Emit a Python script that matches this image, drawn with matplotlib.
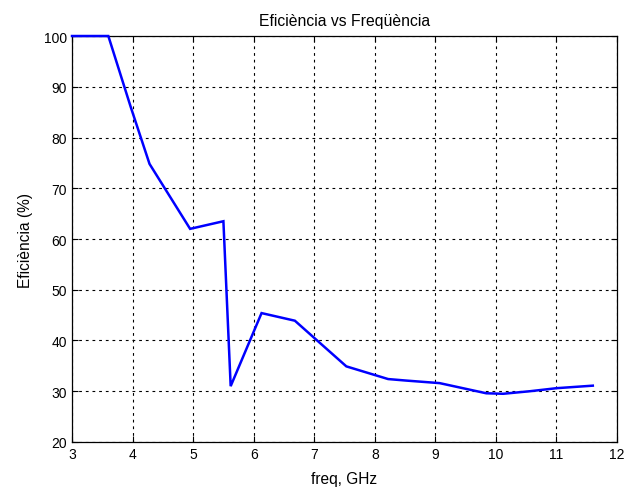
import matplotlib
matplotlib.use("Agg")
import matplotlib.pyplot as plt

# Efficiency measured across frequency
freq_ghz = [3.0, 3.3, 3.6, 3.97, 4.28, 4.95, 5.5, 5.62, 6.13, 6.68, 7.53, 8.22, 8.52, 9.07, 9.84, 10.12, 10.56, 11.0, 11.6]
efficiency = [100.0, 100.0, 100.0, 86.0, 74.8, 62.0, 63.5, 31.0, 45.4, 43.9, 34.9, 32.4, 32.1, 31.6, 29.6, 29.5, 30.0, 30.6, 31.1]

x_ticks = [3, 4, 5, 6, 7, 8, 9, 10, 11, 12]
y_ticks = [20, 30, 40, 50, 60, 70, 80, 90, 100]

plt.rcParams['font.family'] = ['Liberation Sans', 'DejaVu Sans']

fig = plt.figure(figsize=(6.35, 4.89), dpi=100)
fig.patch.set_facecolor('white')
ax = fig.add_axes([0.1134, 0.0941, 0.8583, 0.8302])

ax.plot(freq_ghz, efficiency, color='#0000ff', linewidth=1.8,
        solid_joinstyle='miter', clip_on=False, zorder=3)

ax.set_xlim(3, 12)
ax.set_ylim(20, 100)
ax.set_xticks(x_ticks)
ax.set_yticks(y_ticks)
ax.tick_params(direction='in', labelsize=10, length=4, width=0.8, top=True, right=True)
ax.grid(True, color='black', linestyle=(0, (2.5, 3.5)), linewidth=0.8)
for s in ax.spines.values():
    s.set_linewidth(0.9)
    s.set_zorder(2)

ax.set_title('Eficiència vs Freqüència', fontsize=11.3, pad=8)
ax.set_xlabel('freq, GHz', fontsize=11.2, labelpad=7)
ax.set_ylabel('Eficiència (%)', fontsize=11.2, labelpad=8)

fig.savefig('out.png', dpi=100)
